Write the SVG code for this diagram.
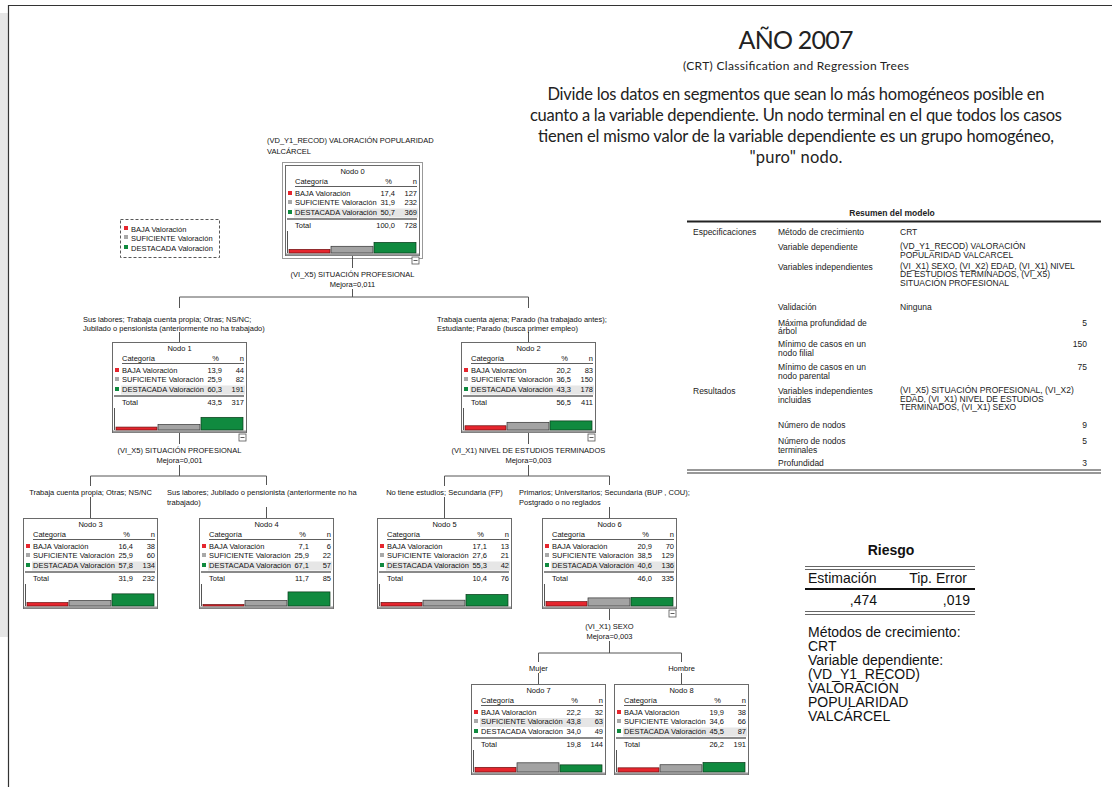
<svg xmlns="http://www.w3.org/2000/svg" width="1112" height="787" viewBox="0 0 1112 787">
<style>
.t{font-family:"Liberation Sans",Arial,sans-serif;font-size:7.5px;fill:#111}
.e{text-anchor:end}
.m{text-anchor:middle}
.box{fill:#fff;stroke:#6a6a6a;stroke-width:1}
.shadow{fill:none;stroke:#9a9a9a;stroke-width:2}
.hdr{stroke:#333;stroke-width:0.8}
.tot{stroke:#8a8a8a;stroke-width:1.8}
.hl{fill:#e6e6e6}
.ax{stroke:#555;stroke-width:1}
.r{fill:#e5262e;stroke:#6b1010;stroke-width:0.7}
.g{fill:#a3a3a3;stroke:#333;stroke-width:0.7}
.v{fill:#108a3f;stroke:#0a3a1a;stroke-width:0.7}
.sr{fill:#e5262e}
.sg{fill:#a8a8a8}
.sv{fill:#108a3f}
.min{fill:#fff;stroke:#555;stroke-width:0.8}
.c{fill:none;stroke:#555;stroke-width:1}
.s{font-family:"Liberation Sans",Arial,sans-serif;font-size:8.5px;fill:#222}
.k{font-family:"Liberation Sans",Arial,sans-serif;font-size:14px;fill:#111}
.cal{font-family:Lato,"Open Sans",sans-serif;fill:#222;text-anchor:middle}
</style>

<!-- frame / background -->
<rect x="0" y="13" width="8" height="624" fill="#e6e6e6"/>
<path d="M8.5 787 V5.5 H1112" fill="none" stroke="#333" stroke-width="1.2"/>

<!-- title block -->
<g id="title">
<text class="cal" x="796" y="49" font-size="25" textLength="115">AÑO 2007</text>
<text class="cal" x="796" y="70" font-size="12" textLength="226">(CRT) Classification and Regression Trees</text>
<text class="cal" x="796" y="100" font-size="16.5" textLength="497">Divide los datos en segmentos que sean lo más homogéneos posible en</text>
<text class="cal" x="796" y="121" font-size="16.5" textLength="532">cuanto a la variable dependiente. Un nodo terminal en el que todos los casos</text>
<text class="cal" x="796" y="142" font-size="16.5" textLength="516">tienen el mismo valor de la variable dependiente es un grupo homogéneo,</text>
<text class="cal" x="796" y="163" font-size="16.5" textLength="93">"puro" nodo.</text>
</g>

<!-- connectors -->
<g id="connectors">
<path class="c" d="M352.5 256 V268 M352.5 289 V297 M179.5 297 H528.5 M179.5 297 V308 M179.5 332 V342 M528.5 297 V308 M528.5 332 V342"/>
<path class="c" d="M179.5 433 V444 M179.5 465 V476 M90.5 476 H266.5 M90.5 476 V486 M90.5 497 V518 M266.5 476 V485 M266.5 507 V518"/>
<path class="c" d="M528.5 433 V444 M528.5 465 V476 M444.5 476 H609.5 M444.5 476 V486 M444.5 497 V518 M609.5 476 V485 M609.5 507 V518"/>
<path class="c" d="M609.5 609 V620 M609.5 641 V653 M538.5 653 H681.5 M538.5 653 V662 M538.5 673 V684 M681.5 653 V662 M681.5 673 V684"/>
<text class="t" x="267" y="143">(VD_Y1_RECOD) VALORACIÓN POPULARIDAD</text>
<text class="t" x="267" y="154">VALCÁRCEL</text>
<text class="t m" x="352.5" y="277">(VI_X5) SITUACIÓN PROFESIONAL</text>
<text class="t m" x="352.5" y="287">Mejora=0,011</text>
<text class="t" x="83" y="322">Sus labores; Trabaja cuenta propia; Otras; NS/NC;</text>
<text class="t" x="83" y="330.5">Jubilado o pensionista (anteriormente no ha trabajado)</text>
<text class="t" x="437" y="322">Trabaja cuenta ajena; Parado (ha trabajado antes);</text>
<text class="t" x="437" y="330.5">Estudiante; Parado (busca primer empleo)</text>
<text class="t m" x="179.5" y="453">(VI_X5) SITUACIÓN PROFESIONAL</text>
<text class="t m" x="179.5" y="463">Mejora=0,001</text>
<text class="t m" x="90.5" y="495">Trabaja cuenta propia; Otras; NS/NC</text>
<text class="t" x="167" y="495">Sus labores; Jubilado o pensionista (anteriormente no ha</text>
<text class="t" x="167" y="505">trabajado)</text>
<text class="t m" x="528.5" y="453">(VI_X1) NIVEL DE ESTUDIOS TERMINADOS</text>
<text class="t m" x="528.5" y="463">Mejora=0,003</text>
<text class="t m" x="444.5" y="495">No tiene estudios; Secundaria (FP)</text>
<text class="t" x="519" y="495">Primarios; Universitarios; Secundaria (BUP , COU);</text>
<text class="t" x="519" y="505">Postgrado o no reglados</text>
<text class="t m" x="609.5" y="629">(VI_X1) SEXO</text>
<text class="t m" x="609.5" y="639">Mejora=0,003</text>
<text class="t m" x="538.5" y="671">Mujer</text>
<text class="t m" x="681.5" y="671">Hombre</text>
</g>

<!-- legend -->
<g id="legend">
<rect x="120.5" y="219.5" width="99" height="38" fill="#fff" stroke="#444" stroke-width="0.9" stroke-dasharray="3,2"/>
<rect class="sr" x="124" y="226" width="4" height="4"/>
<text class="t" x="131" y="232">BAJA Valoración</text>
<rect class="sg" x="124" y="235" width="4" height="4"/>
<text class="t" x="131" y="241">SUFICIENTE Valoración</text>
<rect class="sv" x="124" y="245" width="4" height="4"/>
<text class="t" x="131" y="251">DESTACADA Valoración</text>
</g>

<!-- Node 0 -->
<g id="node0" transform="translate(285,165)">
<rect x="-2.5" y="-2.5" width="140" height="96" fill="none" stroke="#333" stroke-width="1" stroke-dasharray="1,1"/>
<rect class="box" x="0.5" y="0.5" width="134" height="90"/>
<line class="shadow" x1="1" y1="89.5" x2="134" y2="89.5"/>
<rect class="hl" x="9" y="43.5" width="124" height="9"/>
<text class="t m" x="67.5" y="9">Nodo 0</text>
<text class="t" x="10" y="19">Categoría</text><text class="t e" x="107" y="19">%</text><text class="t e" x="132" y="19">n</text>
<line class="hdr" x1="10" y1="21.5" x2="132" y2="21.5"/>
<rect class="sr" x="3" y="26" width="4" height="4"/><text class="t" x="10" y="31">BAJA Valoración</text><text class="t e" x="110" y="31">17,4</text><text class="t e" x="132" y="31">127</text>
<rect class="sg" x="3" y="35" width="4" height="4"/><text class="t" x="10" y="40">SUFICIENTE Valoración</text><text class="t e" x="110" y="40">31,9</text><text class="t e" x="132" y="40">232</text>
<rect class="sv" x="3" y="45" width="4" height="4"/><text class="t" x="10" y="50">DESTACADA Valoración</text><text class="t e" x="110" y="50">50,7</text><text class="t e" x="132" y="50">369</text>
<line class="tot" x1="2" y1="54" x2="132" y2="54"/>
<text class="t" x="10" y="63">Total</text><text class="t e" x="110" y="63">100,0</text><text class="t e" x="132" y="63">728</text>
<line class="ax" x1="2.5" y1="66" x2="2.5" y2="88"/>
<rect class="r" x="4" y="84.35" width="41" height="3.65"/>
<rect class="g" x="46" y="81.3" width="42" height="6.7"/>
<rect class="v" x="89" y="77.35" width="42" height="10.65"/>
<rect class="min" x="127" y="92" width="7" height="7"/><line x1="128.5" y1="95.5" x2="132.5" y2="95.5" stroke="#333" stroke-width="0.8"/>
</g>

<!-- Node 1 -->
<g id="node1" transform="translate(112,342)">
<rect class="box" x="0.5" y="0.5" width="134" height="90"/>
<line class="shadow" x1="1" y1="89.5" x2="134" y2="89.5"/>
<rect class="hl" x="9" y="43.5" width="124" height="9"/>
<text class="t m" x="67.5" y="9">Nodo 1</text>
<text class="t" x="10" y="19">Categoría</text><text class="t e" x="107" y="19">%</text><text class="t e" x="132" y="19">n</text>
<line class="hdr" x1="10" y1="21.5" x2="132" y2="21.5"/>
<rect class="sr" x="3" y="26" width="4" height="4"/><text class="t" x="10" y="31">BAJA Valoración</text><text class="t e" x="110" y="31">13,9</text><text class="t e" x="132" y="31">44</text>
<rect class="sg" x="3" y="35" width="4" height="4"/><text class="t" x="10" y="40">SUFICIENTE Valoración</text><text class="t e" x="110" y="40">25,9</text><text class="t e" x="132" y="40">82</text>
<rect class="sv" x="3" y="45" width="4" height="4"/><text class="t" x="10" y="50">DESTACADA Valoración</text><text class="t e" x="110" y="50">60,3</text><text class="t e" x="132" y="50">191</text>
<line class="tot" x1="2" y1="54" x2="132" y2="54"/>
<text class="t" x="10" y="63">Total</text><text class="t e" x="110" y="63">43,5</text><text class="t e" x="132" y="63">317</text>
<line class="ax" x1="2.5" y1="66" x2="2.5" y2="88"/>
<rect class="r" x="4" y="85.08" width="41" height="2.92"/>
<rect class="g" x="46" y="82.56" width="42" height="5.44"/>
<rect class="v" x="89" y="75.34" width="42" height="12.66"/>
<rect class="min" x="127" y="92" width="7" height="7"/><line x1="128.5" y1="95.5" x2="132.5" y2="95.5" stroke="#333" stroke-width="0.8"/>
</g>

<!-- Node 2 -->
<g id="node2" transform="translate(461,342)">
<rect class="box" x="0.5" y="0.5" width="134" height="90"/>
<line class="shadow" x1="1" y1="89.5" x2="134" y2="89.5"/>
<rect class="hl" x="9" y="43.5" width="124" height="9"/>
<text class="t m" x="67.5" y="9">Nodo 2</text>
<text class="t" x="10" y="19">Categoría</text><text class="t e" x="107" y="19">%</text><text class="t e" x="132" y="19">n</text>
<line class="hdr" x1="10" y1="21.5" x2="132" y2="21.5"/>
<rect class="sr" x="3" y="26" width="4" height="4"/><text class="t" x="10" y="31">BAJA Valoración</text><text class="t e" x="110" y="31">20,2</text><text class="t e" x="132" y="31">83</text>
<rect class="sg" x="3" y="35" width="4" height="4"/><text class="t" x="10" y="40">SUFICIENTE Valoración</text><text class="t e" x="110" y="40">36,5</text><text class="t e" x="132" y="40">150</text>
<rect class="sv" x="3" y="45" width="4" height="4"/><text class="t" x="10" y="50">DESTACADA Valoración</text><text class="t e" x="110" y="50">43,3</text><text class="t e" x="132" y="50">178</text>
<line class="tot" x1="2" y1="54" x2="132" y2="54"/>
<text class="t" x="10" y="63">Total</text><text class="t e" x="110" y="63">56,5</text><text class="t e" x="132" y="63">411</text>
<line class="ax" x1="2.5" y1="66" x2="2.5" y2="88"/>
<rect class="r" x="4" y="83.76" width="41" height="4.24"/>
<rect class="g" x="46" y="80.33" width="42" height="7.67"/>
<rect class="v" x="89" y="78.91" width="42" height="9.09"/>
<rect class="min" x="127" y="92" width="7" height="7"/><line x1="128.5" y1="95.5" x2="132.5" y2="95.5" stroke="#333" stroke-width="0.8"/>
</g>

<!-- Node 3 -->
<g id="node3" transform="translate(23,518)">
<rect class="box" x="0.5" y="0.5" width="134" height="90"/>
<line class="shadow" x1="1" y1="89.5" x2="134" y2="89.5"/>
<rect class="hl" x="9" y="43.5" width="124" height="9"/>
<text class="t m" x="67.5" y="9">Nodo 3</text>
<text class="t" x="10" y="19">Categoría</text><text class="t e" x="107" y="19">%</text><text class="t e" x="132" y="19">n</text>
<line class="hdr" x1="10" y1="21.5" x2="132" y2="21.5"/>
<rect class="sr" x="3" y="26" width="4" height="4"/><text class="t" x="10" y="31">BAJA Valoración</text><text class="t e" x="110" y="31">16,4</text><text class="t e" x="132" y="31">38</text>
<rect class="sg" x="3" y="35" width="4" height="4"/><text class="t" x="10" y="40">SUFICIENTE Valoración</text><text class="t e" x="110" y="40">25,9</text><text class="t e" x="132" y="40">60</text>
<rect class="sv" x="3" y="45" width="4" height="4"/><text class="t" x="10" y="50">DESTACADA Valoración</text><text class="t e" x="110" y="50">57,8</text><text class="t e" x="132" y="50">134</text>
<line class="tot" x1="2" y1="54" x2="132" y2="54"/>
<text class="t" x="10" y="63">Total</text><text class="t e" x="110" y="63">31,9</text><text class="t e" x="132" y="63">232</text>
<line class="ax" x1="2.5" y1="66" x2="2.5" y2="88"/>
<rect class="r" x="4" y="84.56" width="41" height="3.44"/>
<rect class="g" x="46" y="82.56" width="42" height="5.44"/>
<rect class="v" x="89" y="75.86" width="42" height="12.14"/>
</g>

<!-- Node 4 -->
<g id="node4" transform="translate(199,518)">
<rect class="box" x="0.5" y="0.5" width="134" height="90"/>
<line class="shadow" x1="1" y1="89.5" x2="134" y2="89.5"/>
<rect class="hl" x="9" y="43.5" width="124" height="9"/>
<text class="t m" x="67.5" y="9">Nodo 4</text>
<text class="t" x="10" y="19">Categoría</text><text class="t e" x="107" y="19">%</text><text class="t e" x="132" y="19">n</text>
<line class="hdr" x1="10" y1="21.5" x2="132" y2="21.5"/>
<rect class="sr" x="3" y="26" width="4" height="4"/><text class="t" x="10" y="31">BAJA Valoración</text><text class="t e" x="110" y="31">7,1</text><text class="t e" x="132" y="31">6</text>
<rect class="sg" x="3" y="35" width="4" height="4"/><text class="t" x="10" y="40">SUFICIENTE Valoración</text><text class="t e" x="110" y="40">25,9</text><text class="t e" x="132" y="40">22</text>
<rect class="sv" x="3" y="45" width="4" height="4"/><text class="t" x="10" y="50">DESTACADA Valoración</text><text class="t e" x="110" y="50">67,1</text><text class="t e" x="132" y="50">57</text>
<line class="tot" x1="2" y1="54" x2="132" y2="54"/>
<text class="t" x="10" y="63">Total</text><text class="t e" x="110" y="63">11,7</text><text class="t e" x="132" y="63">85</text>
<line class="ax" x1="2.5" y1="66" x2="2.5" y2="88"/>
<rect class="r" x="4" y="86.51" width="41" height="1.49"/>
<rect class="g" x="46" y="82.56" width="42" height="5.44"/>
<rect class="v" x="89" y="73.91" width="42" height="14.09"/>
</g>

<!-- Node 5 -->
<g id="node5" transform="translate(377,518)">
<rect class="box" x="0.5" y="0.5" width="134" height="90"/>
<line class="shadow" x1="1" y1="89.5" x2="134" y2="89.5"/>
<rect class="hl" x="9" y="43.5" width="124" height="9"/>
<text class="t m" x="67.5" y="9">Nodo 5</text>
<text class="t" x="10" y="19">Categoría</text><text class="t e" x="107" y="19">%</text><text class="t e" x="132" y="19">n</text>
<line class="hdr" x1="10" y1="21.5" x2="132" y2="21.5"/>
<rect class="sr" x="3" y="26" width="4" height="4"/><text class="t" x="10" y="31">BAJA Valoración</text><text class="t e" x="110" y="31">17,1</text><text class="t e" x="132" y="31">13</text>
<rect class="sg" x="3" y="35" width="4" height="4"/><text class="t" x="10" y="40">SUFICIENTE Valoración</text><text class="t e" x="110" y="40">27,6</text><text class="t e" x="132" y="40">21</text>
<rect class="sv" x="3" y="45" width="4" height="4"/><text class="t" x="10" y="50">DESTACADA Valoración</text><text class="t e" x="110" y="50">55,3</text><text class="t e" x="132" y="50">42</text>
<line class="tot" x1="2" y1="54" x2="132" y2="54"/>
<text class="t" x="10" y="63">Total</text><text class="t e" x="110" y="63">10,4</text><text class="t e" x="132" y="63">76</text>
<line class="ax" x1="2.5" y1="66" x2="2.5" y2="88"/>
<rect class="r" x="4" y="84.41" width="41" height="3.59"/>
<rect class="g" x="46" y="82.2" width="42" height="5.8"/>
<rect class="v" x="89" y="76.39" width="42" height="11.61"/>
</g>

<!-- Node 6 -->
<g id="node6" transform="translate(542,518)">
<rect class="box" x="0.5" y="0.5" width="134" height="90"/>
<line class="shadow" x1="1" y1="89.5" x2="134" y2="89.5"/>
<rect class="hl" x="9" y="43.5" width="124" height="9"/>
<text class="t m" x="67.5" y="9">Nodo 6</text>
<text class="t" x="10" y="19">Categoría</text><text class="t e" x="107" y="19">%</text><text class="t e" x="132" y="19">n</text>
<line class="hdr" x1="10" y1="21.5" x2="132" y2="21.5"/>
<rect class="sr" x="3" y="26" width="4" height="4"/><text class="t" x="10" y="31">BAJA Valoración</text><text class="t e" x="110" y="31">20,9</text><text class="t e" x="132" y="31">70</text>
<rect class="sg" x="3" y="35" width="4" height="4"/><text class="t" x="10" y="40">SUFICIENTE Valoración</text><text class="t e" x="110" y="40">38,5</text><text class="t e" x="132" y="40">129</text>
<rect class="sv" x="3" y="45" width="4" height="4"/><text class="t" x="10" y="50">DESTACADA Valoración</text><text class="t e" x="110" y="50">40,6</text><text class="t e" x="132" y="50">136</text>
<line class="tot" x1="2" y1="54" x2="132" y2="54"/>
<text class="t" x="10" y="63">Total</text><text class="t e" x="110" y="63">46,0</text><text class="t e" x="132" y="63">335</text>
<line class="ax" x1="2.5" y1="66" x2="2.5" y2="88"/>
<rect class="r" x="4" y="83.61" width="41" height="4.39"/>
<rect class="g" x="46" y="79.91" width="42" height="8.09"/>
<rect class="v" x="89" y="79.47" width="42" height="8.53"/>
<rect class="min" x="127" y="92" width="7" height="7"/><line x1="128.5" y1="95.5" x2="132.5" y2="95.5" stroke="#333" stroke-width="0.8"/>
</g>

<!-- Node 7 -->
<g id="node7" transform="translate(471,684)">
<rect class="box" x="0.5" y="0.5" width="134" height="90"/>
<line class="shadow" x1="1" y1="89.5" x2="134" y2="89.5"/>
<rect class="hl" x="9" y="34" width="124" height="9"/>
<text class="t m" x="67.5" y="9">Nodo 7</text>
<text class="t" x="10" y="19">Categoría</text><text class="t e" x="107" y="19">%</text><text class="t e" x="132" y="19">n</text>
<line class="hdr" x1="10" y1="21.5" x2="132" y2="21.5"/>
<rect class="sr" x="3" y="26" width="4" height="4"/><text class="t" x="10" y="31">BAJA Valoración</text><text class="t e" x="110" y="31">22,2</text><text class="t e" x="132" y="31">32</text>
<rect class="sg" x="3" y="35" width="4" height="4"/><text class="t" x="10" y="40">SUFICIENTE Valoración</text><text class="t e" x="110" y="40">43,8</text><text class="t e" x="132" y="40">63</text>
<rect class="sv" x="3" y="45" width="4" height="4"/><text class="t" x="10" y="50">DESTACADA Valoración</text><text class="t e" x="110" y="50">34,0</text><text class="t e" x="132" y="50">49</text>
<line class="tot" x1="2" y1="54" x2="132" y2="54"/>
<text class="t" x="10" y="63">Total</text><text class="t e" x="110" y="63">19,8</text><text class="t e" x="132" y="63">144</text>
<line class="ax" x1="2.5" y1="66" x2="2.5" y2="88"/>
<rect class="r" x="4" y="83.34" width="41" height="4.66"/>
<rect class="g" x="46" y="78.8" width="42" height="9.2"/>
<rect class="v" x="89" y="80.86" width="42" height="7.14"/>
</g>

<!-- Node 8 -->
<g id="node8" transform="translate(614,684)">
<rect class="box" x="0.5" y="0.5" width="134" height="90"/>
<line class="shadow" x1="1" y1="89.5" x2="134" y2="89.5"/>
<rect class="hl" x="9" y="43.5" width="124" height="9"/>
<text class="t m" x="67.5" y="9">Nodo 8</text>
<text class="t" x="10" y="19">Categoría</text><text class="t e" x="107" y="19">%</text><text class="t e" x="132" y="19">n</text>
<line class="hdr" x1="10" y1="21.5" x2="132" y2="21.5"/>
<rect class="sr" x="3" y="26" width="4" height="4"/><text class="t" x="10" y="31">BAJA Valoración</text><text class="t e" x="110" y="31">19,9</text><text class="t e" x="132" y="31">38</text>
<rect class="sg" x="3" y="35" width="4" height="4"/><text class="t" x="10" y="40">SUFICIENTE Valoración</text><text class="t e" x="110" y="40">34,6</text><text class="t e" x="132" y="40">66</text>
<rect class="sv" x="3" y="45" width="4" height="4"/><text class="t" x="10" y="50">DESTACADA Valoración</text><text class="t e" x="110" y="50">45,5</text><text class="t e" x="132" y="50">87</text>
<line class="tot" x1="2" y1="54" x2="132" y2="54"/>
<text class="t" x="10" y="63">Total</text><text class="t e" x="110" y="63">26,2</text><text class="t e" x="132" y="63">191</text>
<line class="ax" x1="2.5" y1="66" x2="2.5" y2="88"/>
<rect class="r" x="4" y="83.82" width="41" height="4.18"/>
<rect class="g" x="46" y="80.73" width="42" height="7.27"/>
<rect class="v" x="89" y="78.44" width="42" height="9.56"/>
</g>

<!-- Summary table -->
<g id="summary">
<text class="s" x="892" y="216" text-anchor="middle" font-weight="bold">Resumen del modelo</text>
<line x1="687" y1="221.5" x2="1101" y2="221.5" stroke="#222" stroke-width="2"/>
<text class="s" x="693" y="235">Especificaciones</text>
<text class="s" x="778" y="235">Método de crecimiento</text>
<text class="s" x="900" y="235">CRT</text>
<text class="s" x="778" y="250">Variable dependiente</text>
<text class="s" x="900" y="249">(VD_Y1_RECOD) VALORACIÓN</text>
<text class="s" x="900" y="257.5">POPULARIDAD VALCARCEL</text>
<text class="s" x="778" y="269.5">Variables independientes</text>
<text class="s" x="900" y="268.5">(VI_X1) SEXO, (VI_X2) EDAD, (VI_X1) NIVEL</text>
<text class="s" x="900" y="277">DE ESTUDIOS TERMINADOS, (VI_X5)</text>
<text class="s" x="900" y="285.5">SITUACIÓN PROFESIONAL</text>
<text class="s" x="778" y="310">Validación</text>
<text class="s" x="900" y="310">Ninguna</text>
<text class="s" x="778" y="325.5">Máxima profundidad de</text>
<text class="s" x="778" y="334">árbol</text>
<text class="s" x="1087" y="325.5" text-anchor="end">5</text>
<text class="s" x="778" y="347">Mínimo de casos en un</text>
<text class="s" x="778" y="355.5">nodo filial</text>
<text class="s" x="1087" y="347" text-anchor="end">150</text>
<text class="s" x="778" y="370">Mínimo de casos en un</text>
<text class="s" x="778" y="378.5">nodo parental</text>
<text class="s" x="1087" y="370" text-anchor="end">75</text>
<text class="s" x="693" y="394">Resultados</text>
<text class="s" x="778" y="394">Variables independientes</text>
<text class="s" x="778" y="402.5">incluidas</text>
<text class="s" x="900" y="393">(VI_X5) SITUACIÓN PROFESIONAL, (VI_X2)</text>
<text class="s" x="900" y="401.5">EDAD, (VI_X1) NIVEL DE ESTUDIOS</text>
<text class="s" x="900" y="410">TERMINADOS, (VI_X1) SEXO</text>
<text class="s" x="778" y="428">Número de nodos</text>
<text class="s" x="1087" y="428" text-anchor="end">9</text>
<text class="s" x="778" y="444">Número de nodos</text>
<text class="s" x="778" y="452.5">terminales</text>
<text class="s" x="1087" y="444" text-anchor="end">5</text>
<text class="s" x="778" y="466">Profundidad</text>
<text class="s" x="1087" y="466" text-anchor="end">3</text>
<line x1="687" y1="470" x2="1101" y2="470" stroke="#333" stroke-width="1.2"/>
<line x1="687" y1="473" x2="1101" y2="473" stroke="#333" stroke-width="1.2"/>
</g>

<!-- Risk table -->
<g id="risk">
<text class="k" x="891" y="555" text-anchor="middle" font-weight="bold" font-size="13.5">Riesgo</text>
<line x1="805" y1="566.5" x2="975" y2="566.5" stroke="#666" stroke-width="1"/>
<line x1="805" y1="569.5" x2="975" y2="569.5" stroke="#666" stroke-width="1"/>
<text class="k" x="808" y="583">Estimación</text>
<text class="k" x="967" y="583" text-anchor="end">Tip. Error</text>
<line x1="805" y1="589" x2="975" y2="589" stroke="#111" stroke-width="2"/>
<text class="k" x="877" y="605" text-anchor="end">,474</text>
<text class="k" x="970" y="605" text-anchor="end">,019</text>
<line x1="805" y1="611.5" x2="975" y2="611.5" stroke="#666" stroke-width="1"/>
<line x1="805" y1="614.5" x2="975" y2="614.5" stroke="#666" stroke-width="1"/>
<text class="k" x="808" y="637">Métodos de crecimiento:</text>
<text class="k" x="808" y="651">CRT</text>
<text class="k" x="808" y="665">Variable dependiente:</text>
<text class="k" x="808" y="679">(VD_Y1_RECOD)</text>
<text class="k" x="808" y="693">VALORACIÓN</text>
<text class="k" x="808" y="707">POPULARIDAD</text>
<text class="k" x="808" y="721">VALCÁRCEL</text>
</g>
</svg>
